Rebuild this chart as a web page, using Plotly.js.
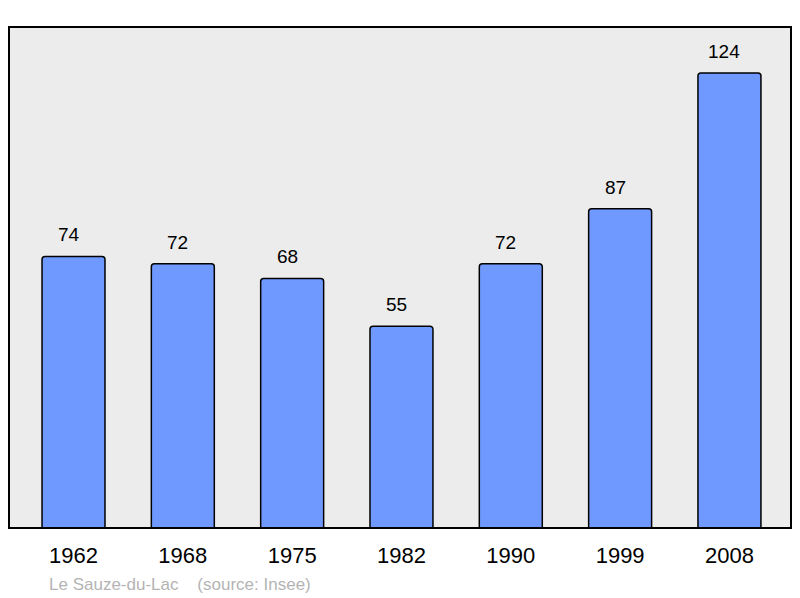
<!DOCTYPE html>
<html>
<head>
<meta charset="utf-8">
<script src="https://cdn.plot.ly/plotly-3.0.1.min.js"></script>
<style>
  html, body { margin: 0; padding: 0; background: #fff; }
  #chart { width: 800px; height: 598px; }
</style>
</head>
<body>
<div id="chart"></div>
<script>
// données de population
var annees = ['1962', '1968', '1975', '1982', '1990', '1999', '2008'];
var population = [74, 72, 68, 55, 72, 87, 124];
var commune = 'Le Sauze-du-Lac';
var source = '(source: Insee)';

var police = 'Liberation Sans, Arial, sans-serif';

var trace = {
    x: annees,
    y: population,
    type: 'bar',
    width: 0.576,
    marker: {
        color: '#7099ff',
        line: {color: '#000000', width: 1.5},
        cornerradius: 3
    },
    hoverinfo: 'none'
};

// étiquettes au-dessus des barres
var etiquettes = annees.map(function (a, i) {
    return {
        xref: 'x', yref: 'y',
        x: i,
        y: population[i],
        text: String(population[i]),
        showarrow: false,
        xanchor: 'center',
        yanchor: 'bottom',
        xshift: -5,
        yshift: 9,
        font: {family: police, size: 19, color: '#000000'}
    };
});

etiquettes.push({
    xref: 'paper', yref: 'paper',
    x: 38 / 782, y: -56 / 501,
    xanchor: 'left', yanchor: 'middle',
    text: commune + '&nbsp;&nbsp;&nbsp;&nbsp;' + source,
    showarrow: false,
    font: {family: police, size: 17, color: '#b4b4b4'}
});

var layout = {
    width: 800,
    height: 598,
    margin: {l: 9, r: 9, t: 27, b: 70},
    paper_bgcolor: '#ffffff',
    plot_bgcolor: '#ececec',
    showlegend: false,
    xaxis: {
        type: 'category',
        range: [-0.59, 6.563],
        showgrid: false,
        zeroline: false,
        showline: false,
        ticks: '',
        ticklabelstandoff: 12,
        tickfont: {family: police, size: 22, color: '#000000'}
    },
    yaxis: {
        range: [0, 136.5],
        showgrid: false,
        zeroline: false,
        showticklabels: false,
        ticks: ''
    },
    shapes: [{
        type: 'rect',
        xref: 'paper', yref: 'paper',
        x0: 0, x1: 1, y0: 0, y1: 1,
        line: {color: '#000000', width: 2},
        layer: 'above'
    }],
    annotations: etiquettes
};

Plotly.newPlot('chart', [trace], layout, {staticPlot: true, displayModeBar: false});
</script>
</body>
</html>
